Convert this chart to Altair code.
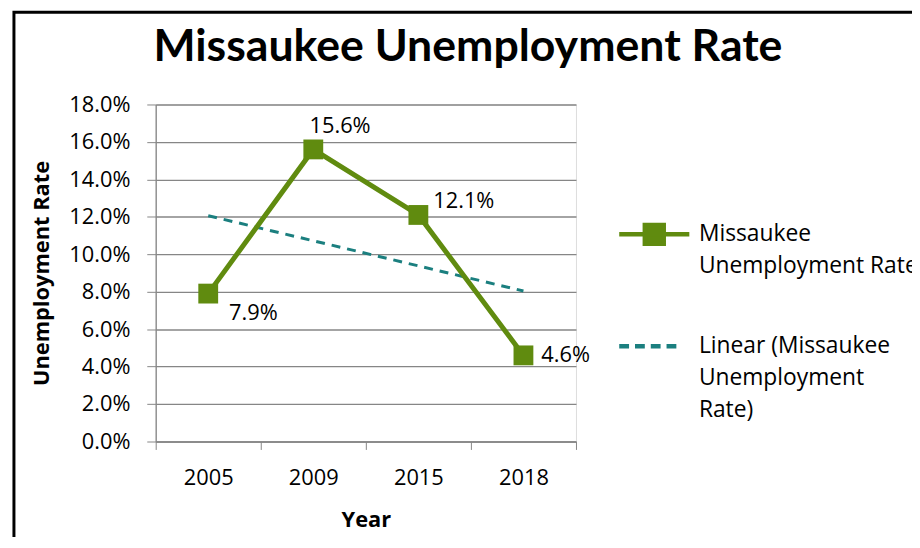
import json
import altair as alt
import pandas as pd

# ---------------- data ----------------
years = ["2005", "2009", "2015", "2018"]
rates = [0.079, 0.156, 0.121, 0.046]
trend_years = ["2005", "2018"]
trend_rates = [0.1206, 0.0804]
y_ticks = [0.0, 0.02, 0.04, 0.06, 0.08, 0.10, 0.12, 0.14, 0.16, 0.18]
series_names = ["Missaukee Unemployment Rate", "Linear (Missaukee Unemployment Rate)"]
legend_lines = [["Missaukee", "Unemployment Rate"], ["Linear (Missaukee", "Unemployment", "Rate)"]]
title_text = "Missaukee Unemployment Rate"
x_title = "Year"
y_title = "Unemployment Rate"

# ---------------- style ----------------
GREEN = "#608B0F"
TEAL = "#1B7F7F"
GRID = "#868686"
FONT = "Open Sans"
TFONT = "Lato"
FS = 22

df = pd.DataFrame({"year": years, "rate": rates})
trend_df = pd.DataFrame({"year": trend_years, "rate": trend_rates})

x_enc = alt.X(
    "year:O",
    scale=alt.Scale(type="band", domain=years, paddingInner=0, paddingOuter=0),
    bandPosition=0.5,
    axis=alt.Axis(
        title=x_title, labelAngle=0, tickBand="extent", grid=False,
        labelFont=FONT, labelFontSize=FS, labelColor="black", labelPadding=18,
        tickColor=GRID, tickSize=8, domainColor=GRID, domainWidth=1.3,
        titleFont=FONT, titleFontSize=FS, titleFontWeight="bold", titleColor="black",
        titlePadding=22,
    ),
)
y_enc = alt.Y(
    "rate:Q",
    scale=alt.Scale(domain=[0, 0.18], nice=False, zero=True),
    axis=alt.Axis(
        title=y_title, values=y_ticks, format=".1%", grid=True, gridColor=GRID, gridWidth=1.3,
        labelFont=FONT, labelFontSize=FS, labelColor="black", labelPadding=17,
        tickColor=GRID, tickSize=9, domainColor=GRID, domainWidth=1.3,
        titleFont=FONT, titleFontSize=FS, titleFontWeight="bold", titleColor="black",
        titlePadding=15,
    ),
)

line = alt.Chart(df).mark_line(color=GREEN, strokeWidth=5).encode(x=x_enc, y=y_enc)
trend = alt.Chart(trend_df).mark_line(color=TEAL, strokeWidth=3, strokeDash=[9, 7]).encode(x=x_enc, y=y_enc)
points = alt.Chart(df).mark_point(shape="square", filled=True, size=400, color=GREEN, opacity=1).encode(x=x_enc, y=y_enc)

def label_layer(year, **kw):
    return (
        alt.Chart(df)
        .transform_filter(alt.datum.year == year)
        .mark_text(font=FONT, fontSize=FS, color="black", baseline="middle", **kw)
        .encode(x=x_enc, y=y_enc, text=alt.Text("rate:Q", format=".1%"))
    )

labels = [
    label_layer(years[0], align="left", dx=21, dy=20),
    label_layer(years[1], align="center", dx=27, dy=-24),
    label_layer(years[2], align="left", dx=15, dy=-14),
    label_layer(years[3], align="left", dx=18, dy=0),
]

# legend symbols: line + square, and dashed line (custom symbol paths)
sym_line_square = "M-1,0H1M-0.27,-0.27H0.27V0.27H-0.27Z"
sym_dashed = "M-1,0H-0.72M-0.55,0H-0.27M-0.1,0H0.18M0.35,0H0.63"

label_expr = "datum.label == {a} ? {la} : {lb}".format(
    a=json.dumps(series_names[0]), la=json.dumps(legend_lines[0]), lb=json.dumps(legend_lines[1])
)
legend = alt.Legend(
    title=None, orient="none", legendX=465, legendY=93,
    labelExpr=label_expr, labelFont=FONT, labelFontSize=23, labelColor="black",
    labelLimit=0, labelOffset=7, labelBaseline="middle", labelFontWeight="normal",
    symbolSize=5000, symbolStrokeWidth=4.5, symbolOpacity=1, rowPadding=31,
)
legend_layer = alt.Chart(alt.Data(values=[])).mark_point(filled=True, opacity=1, strokeWidth=4.5).encode(
    fill=alt.Fill("series:N", scale=alt.Scale(domain=series_names, range=[GREEN, TEAL]), legend=legend),
    stroke=alt.Stroke("series:N", scale=alt.Scale(domain=series_names, range=[GREEN, TEAL]), legend=legend),
    shape=alt.Shape("series:N", scale=alt.Scale(domain=series_names, range=[sym_line_square, sym_dashed]), legend=legend),
)

border = alt.Chart(alt.Data(values=[{}])).mark_rect(
    fillOpacity=0, stroke="black", strokeWidth=3
).encode(x=alt.value(-143), x2=alt.value(900), y=alt.value(-93), y2=alt.value(700))

chart = alt.layer(trend, line, points, *labels, legend_layer, border).properties(
    width=424, height=340,
    title=alt.TitleParams(title_text, font=TFONT, fontSize=45, fontWeight="bold", color="black",
                          anchor="middle", dx=103, offset=-60),
    autosize=alt.AutoSizeParams(type="none"),
    padding={"left": 149, "top": 95, "right": 339, "bottom": 94},
).configure_view(stroke=None).configure(
    background="white", style={"guide-label": {"lineHeight": 32}}
)

chart.save("out.html", embed_options={"renderer": "svg", "actions": False})
